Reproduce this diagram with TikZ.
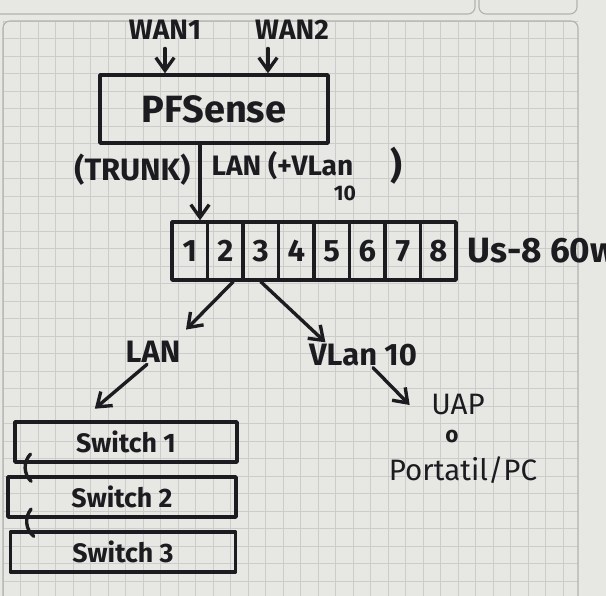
\documentclass[tikz,border=0pt]{standalone}
\usepackage{fontspec}
\setmainfont{Fira Sans}
\usetikzlibrary{arrows.meta,positioning}
\definecolor{paper}{RGB}{231,231,228}
\definecolor{gridline}{RGB}{204,204,202}
\definecolor{frameline}{RGB}{178,178,176}
\definecolor{marker}{RGB}{28,28,32}
\newcommand{\handfont}[1]{\fontsize{#1}{#1}\selectfont}

\begin{document}
\begin{tikzpicture}[>=Stealth,line cap=round,line join=round,
 x={(0.025cm,0cm)},y={(0cm,-0.025cm)},
 pen/.style={marker,line width=2.4pt},
 tip/.style={pen,-{Straight Barb[length=3.2mm,width=4.6mm,line width=2.4pt]}},
 hand/.style={marker,inner sep=1pt,font=\handfont{20}\bfseries},
 pencil/.style={marker,inner sep=1pt,font=\handfont{21}},
 boxed/.style={draw=marker,line width=2.4pt,inner sep=0pt},
 portbox/.style={boxed,minimum width=0.8875cm,minimum height=1.45cm,
  font=\handfont{22}\bfseries,text=marker},
 swbox/.style={boxed,minimum height=1cm,font=\handfont{19}\bfseries,text=marker}]
 % Hoja cuadriculada.
 \useasboundingbox[fill=paper] (0,0) rectangle (606,596);
 \foreach \k in {0,...,32}
  \draw[gridline,line width=.5pt] ({3+17.5*\k},21) -- ({3+17.5*\k},596);
 \foreach \k in {0,...,32}
  \draw[gridline,line width=.5pt] (3,{21+17.5*\k}) -- (578,{21+17.5*\k});
 \draw[frameline,line width=.8pt,rounded corners=5pt]
  (3,596) -- (3,21) -- (578,21) -- (578,596);
 \draw[frameline,line width=.8pt,rounded corners=5pt]
  (-10,-10) -- (-10,14) -- (475,14) -- (475,-10);
 \draw[frameline,line width=.8pt,rounded corners=5pt]
  (479,-10) -- (479,14) -- (577,14) -- (577,-10);
 % Router y sus dos WAN.
 \node[hand] (wanA) at (165,30) {WAN1};
 \node[hand] (wanB) at (292,30) {WAN2};
 \node[boxed,minimum width=5.7cm,minimum height=1.7cm,text=marker,
  font=\handfont{27}\bfseries] (pfs) at (214,109) {PFSense\hspace{1.3cm}};
 \draw[tip] ([yshift=-5pt]wanA.south) -- (wanA.south |- pfs.north);
 \draw[tip] ([xshift=-.6cm,yshift=-5pt]wanB.south)
  -- ([xshift=-.6cm]wanB.south |- pfs.north);
 % Switch de 8 puertos.
 \foreach \p in {1,...,8}
  \node[portbox] (port\p) at ({172+35.5*(\p-.5)},251) {\p};
 \node[hand,font=\handfont{25}\bfseries,anchor=west] (usw) at (466,251) {Us-8 60w};
 \draw[tip] ([xshift=-.35cm]pfs.south) -- ([xshift=-.35cm]pfs.south |- port1.north);
 \node[hand,font=\handfont{22}\bfseries,anchor=east] (trunk) at (192,170) {(TRUNK)};
 \node[hand,anchor=west] (lanup) at (210,166) {LAN (+VLan};
 \node[hand,font=\handfont{15}\bfseries] (ten) at (345,193) {10};
 \node[hand,font=\handfont{26}\bfseries] (close) at (396,166) {)};
 % Las dos redes.
 \node[hand,font=\handfont{22}\bfseries] (lan) at (153,352) {LAN};
 \node[hand,font=\handfont{22}\bfseries] (vlan) at (363,355) {VLan 10};
 \draw[tip] ([xshift=.2cm]port2.south) -- ([xshift=.1cm,yshift=.25cm]lan.north east);
 \draw[tip] (port3.south) -- ([xshift=.45cm]vlan.north west);
 % Switches en cascada.
 \node[swbox,minimum width=5.55cm] (swA) at (126,442) {Switch 1};
 \node[swbox,minimum width=5.7cm] (swB) at (122,497) {Switch 2};
 \node[swbox,minimum width=5.62cm] (swC) at (123,552) {Switch 3};
 \draw[tip] ([xshift=-.15cm]lan.south) -- ([xshift=-.78cm,yshift=.29cm]swA.north);
 \draw[pen] ([xshift=.43cm,yshift=.24cm]swA.south west)
  to[bend right=45] ([xshift=.62cm,yshift=-.15cm]swB.north west);
 \draw[pen] ([xshift=.62cm,yshift=.24cm]swB.south west)
  to[bend right=45] ([xshift=.62cm,yshift=-.15cm]swC.north west);
 % Red inalambrica.
 \node[pencil] (uap) at (458,405) {UAP};
 \node[hand,font=\handfont{16}\bfseries] (ortxt) at (452,437) {o};
 \node[pencil] (pc) at (463,470) {Portatil/PC};
 \draw[tip] ([xshift=.25cm]vlan.south) -- ([xshift=-.5cm]uap.west);
\end{tikzpicture}
\end{document}
